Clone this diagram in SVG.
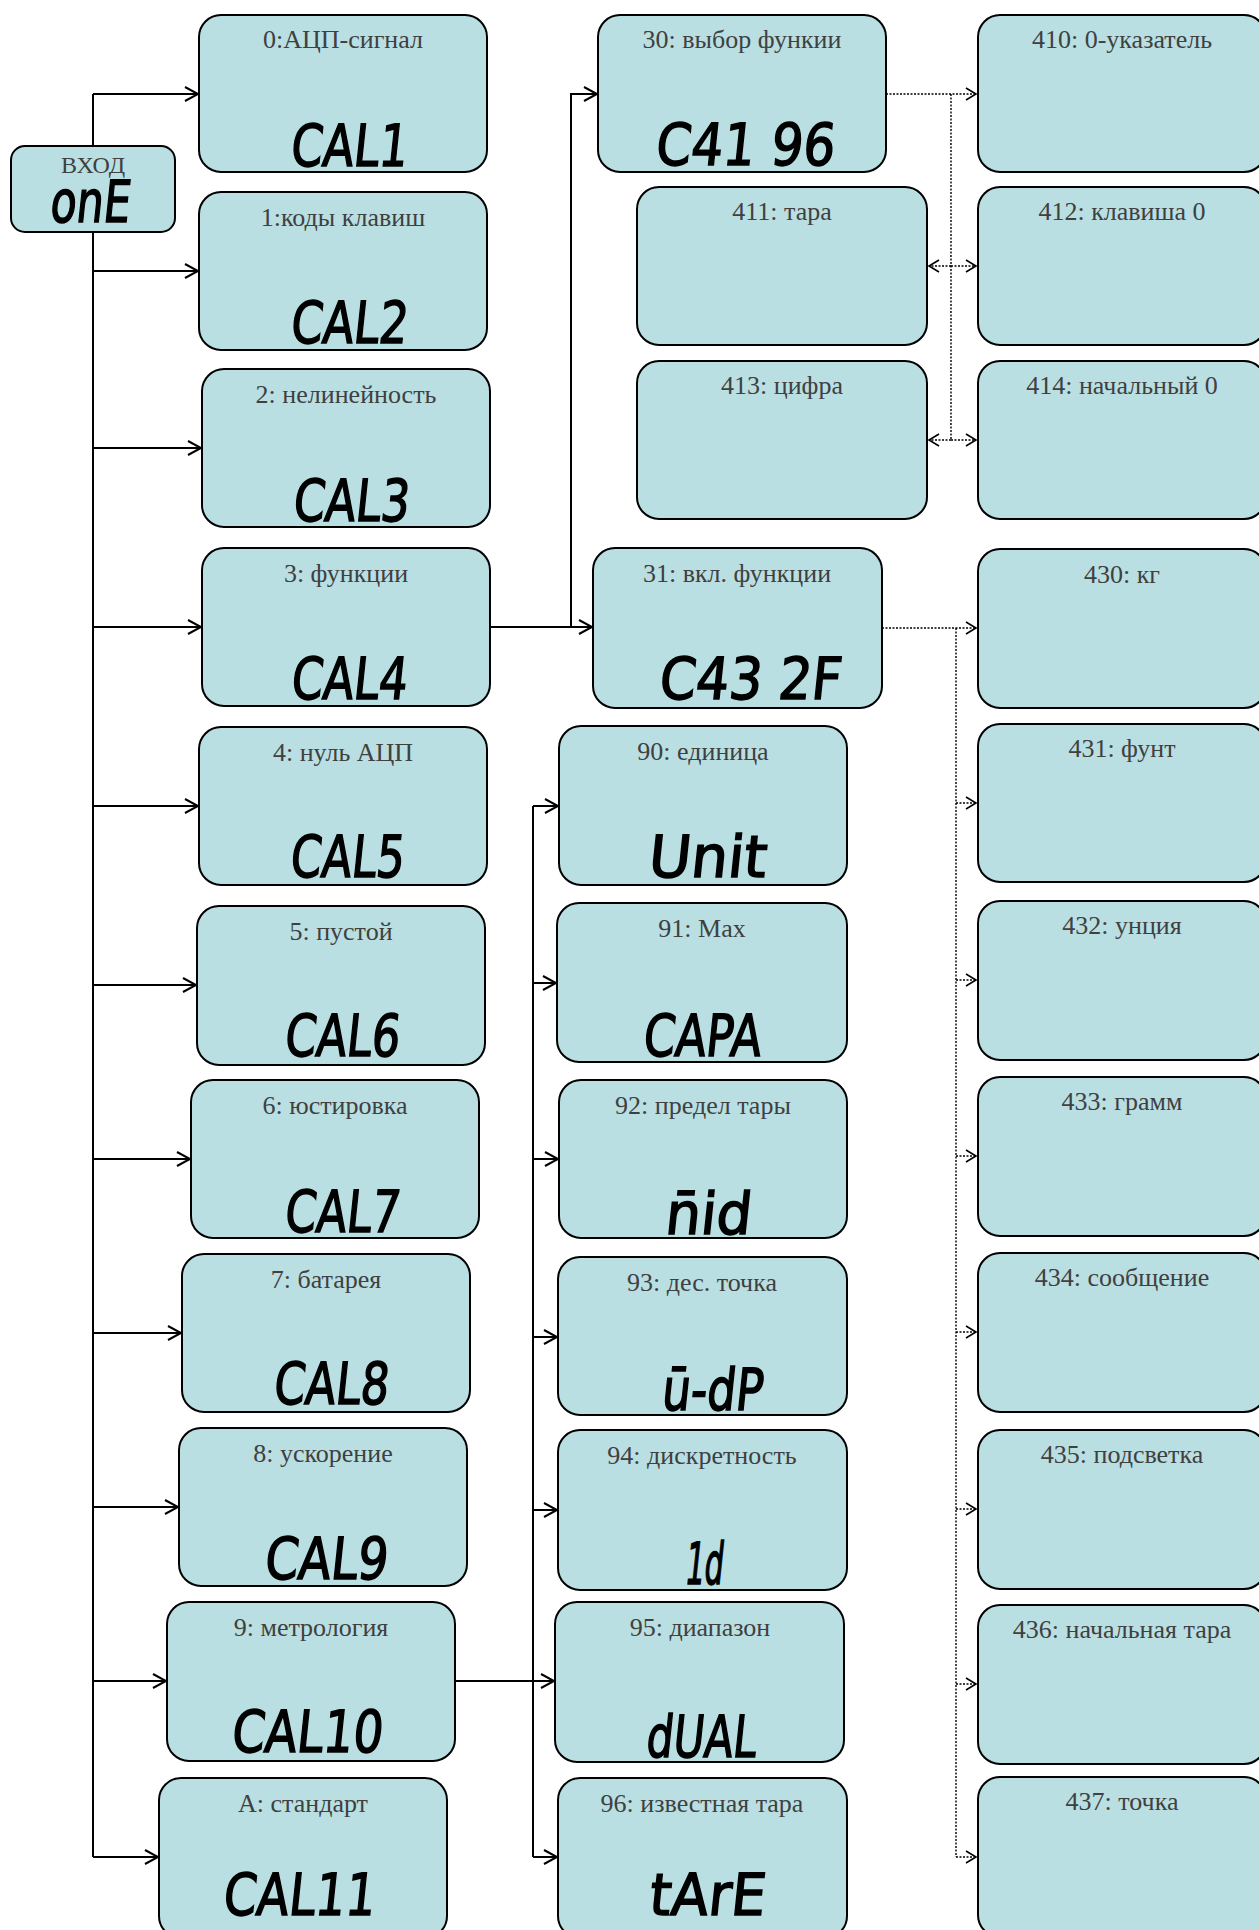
<svg xmlns="http://www.w3.org/2000/svg" width="1259" height="1930" viewBox="0 0 1259 1930">
<style>
.n{fill:#B9DFE2;stroke:#000;stroke-width:2}
.t{font-family:"Liberation Serif","Times New Roman",serif;font-size:26px;fill:#404040;text-anchor:middle}
.s{font-family:"DejaVu Sans",sans-serif;font-weight:normal;font-size:58px;fill:#000;stroke:#000;stroke-width:1.6;text-anchor:middle}
.c{fill:none;stroke:#000;stroke-width:2}
.d{fill:none;stroke:#000;stroke-width:1.4;stroke-dasharray:2 1.5}
</style>
<defs>
<marker id="a" markerUnits="userSpaceOnUse" markerWidth="16" markerHeight="16" refX="13" refY="7" orient="auto" overflow="visible"><path d="M0,0 L13,7 L0,14" fill="none" stroke="#000" stroke-width="2"/></marker>
<marker id="b" markerUnits="userSpaceOnUse" markerWidth="14" markerHeight="14" refX="10" refY="6" orient="auto" overflow="visible"><path d="M0,0 L10,6 L0,12" fill="none" stroke="#000" stroke-width="1.6"/></marker>
</defs>
<rect width="1259" height="1930" fill="#fff"/>
<g id="connectors">
<path class="c" d="M93,94 V1857"/>
<path class="c" marker-end="url(#a)" d="M93,94 H198"/>
<path class="c" marker-end="url(#a)" d="M93,271 H198"/>
<path class="c" marker-end="url(#a)" d="M93,448 H201"/>
<path class="c" marker-end="url(#a)" d="M93,627 H201"/>
<path class="c" marker-end="url(#a)" d="M93,806 H198"/>
<path class="c" marker-end="url(#a)" d="M93,985 H196"/>
<path class="c" marker-end="url(#a)" d="M93,1159 H190"/>
<path class="c" marker-end="url(#a)" d="M93,1333 H181"/>
<path class="c" marker-end="url(#a)" d="M93,1507 H178"/>
<path class="c" marker-end="url(#a)" d="M93,1681 H166"/>
<path class="c" marker-end="url(#a)" d="M93,1857 H158"/>
<path class="c" marker-end="url(#a)" d="M490,627 H592"/>
<path class="c" marker-end="url(#a)" d="M571,627 V94 H597"/>
<path class="c" marker-end="url(#a)" d="M456,1681 H554"/>
<path class="c" d="M533,806 V1857"/>
<path class="c" marker-end="url(#a)" d="M533,806 H558"/>
<path class="c" marker-end="url(#a)" d="M533,983 H556"/>
<path class="c" marker-end="url(#a)" d="M533,1159 H558"/>
<path class="c" marker-end="url(#a)" d="M533,1337 H557"/>
<path class="c" marker-end="url(#a)" d="M533,1510 H557"/>
<path class="c" marker-end="url(#a)" d="M533,1857 H557"/>
<path class="d" marker-end="url(#b)" d="M886,94 H976"/>
<path class="d" d="M951,94 V440"/>
<path class="d" marker-end="url(#b)" d="M951,266 H929"/>
<path class="d" marker-end="url(#b)" d="M951,266 H976"/>
<path class="d" marker-end="url(#b)" d="M951,440 H929"/>
<path class="d" marker-end="url(#b)" d="M951,440 H976"/>
<path class="d" marker-end="url(#b)" d="M882,628 H976"/>
<path class="d" d="M956,628 V1857"/>
<path class="d" marker-end="url(#b)" d="M956,803 H976"/>
<path class="d" marker-end="url(#b)" d="M956,980 H976"/>
<path class="d" marker-end="url(#b)" d="M956,1156 H976"/>
<path class="d" marker-end="url(#b)" d="M956,1332 H976"/>
<path class="d" marker-end="url(#b)" d="M956,1509 H976"/>
<path class="d" marker-end="url(#b)" d="M956,1684 H976"/>
<path class="d" marker-end="url(#b)" d="M956,1857 H976"/>
</g>
<g id="n-entry"><rect class="n" x="11" y="146" width="164" height="86" rx="14"/><text class="t" x="93" y="173" style="font-size:24px">ВХОД</text><g transform="translate(89,222) skewX(-6)"><text class="s" x="0" y="0" textLength="80" lengthAdjust="spacingAndGlyphs">onE</text></g></g>
<g id="n0"><rect class="n" x="199" y="15" width="288" height="157" rx="22"/><text class="t" x="343" y="48">0:АЦП-сигнал</text><g transform="translate(348,166) skewX(-6)"><text class="s" x="0" y="0" textLength="117" lengthAdjust="spacingAndGlyphs">CAL1</text></g></g>
<g id="n1"><rect class="n" x="199" y="192" width="288" height="158" rx="22"/><text class="t" x="343" y="226">1:коды клавиш</text><g transform="translate(348,343) skewX(-6)"><text class="s" x="0" y="0" textLength="117" lengthAdjust="spacingAndGlyphs">CAL2</text></g></g>
<g id="n2"><rect class="n" x="202" y="369" width="288" height="158" rx="22"/><text class="t" x="346" y="403">2: нелинейность</text><g transform="translate(350,521) skewX(-6)"><text class="s" x="0" y="0" textLength="116" lengthAdjust="spacingAndGlyphs">CAL3</text></g></g>
<g id="n3"><rect class="n" x="202" y="548" width="288" height="158" rx="22"/><text class="t" x="346" y="582">3: функции</text><g transform="translate(348,699) skewX(-6)"><text class="s" x="0" y="0" textLength="116" lengthAdjust="spacingAndGlyphs">CAL4</text></g></g>
<g id="n4"><rect class="n" x="199" y="727" width="288" height="158" rx="22"/><text class="t" x="343" y="761">4: нуль АЦП</text><g transform="translate(346,877) skewX(-6)"><text class="s" x="0" y="0" textLength="114" lengthAdjust="spacingAndGlyphs">CAL5</text></g></g>
<g id="n5"><rect class="n" x="197" y="906" width="288" height="159" rx="22"/><text class="t" x="341" y="940">5: пустой</text><g transform="translate(341,1056) skewX(-6)"><text class="s" x="0" y="0" textLength="115" lengthAdjust="spacingAndGlyphs">CAL6</text></g></g>
<g id="n6"><rect class="n" x="191" y="1080" width="288" height="158" rx="22"/><text class="t" x="335" y="1114">6: юстировка</text><g transform="translate(341,1232) skewX(-6)"><text class="s" x="0" y="0" textLength="115" lengthAdjust="spacingAndGlyphs">CAL7</text></g></g>
<g id="n7"><rect class="n" x="182" y="1254" width="288" height="158" rx="22"/><text class="t" x="326" y="1288">7: батарея</text><g transform="translate(330,1404) skewX(-6)"><text class="s" x="0" y="0" textLength="115" lengthAdjust="spacingAndGlyphs">CAL8</text></g></g>
<g id="n8"><rect class="n" x="179" y="1428" width="288" height="158" rx="22"/><text class="t" x="323" y="1462">8: ускорение</text><g transform="translate(325,1579) skewX(-6)"><text class="s" x="0" y="0" textLength="123" lengthAdjust="spacingAndGlyphs">CAL9</text></g></g>
<g id="n9"><rect class="n" x="167" y="1602" width="288" height="159" rx="22"/><text class="t" x="311" y="1636">9: метрология</text><g transform="translate(306,1752) skewX(-6)"><text class="s" x="0" y="0" textLength="151" lengthAdjust="spacingAndGlyphs">CAL10</text></g></g>
<g id="nA"><rect class="n" x="159" y="1778" width="288" height="160" rx="22"/><text class="t" x="303" y="1812">A: стандарт</text><g transform="translate(298,1915) skewX(-6)"><text class="s" x="0" y="0" textLength="152" lengthAdjust="spacingAndGlyphs">CAL11</text></g></g>
<g id="n30"><rect class="n" x="598" y="15" width="288" height="157" rx="22"/><text class="t" x="742" y="48">30: выбор функии</text><g transform="translate(744,165) skewX(-6)"><text class="s" x="0" y="0" textLength="179" lengthAdjust="spacingAndGlyphs">C41 96</text></g></g>
<g id="n411"><rect class="n" x="637" y="187" width="290" height="158" rx="22"/><text class="t" x="782" y="220">411: тара</text></g>
<g id="n413"><rect class="n" x="637" y="361" width="290" height="158" rx="22"/><text class="t" x="782" y="394">413: цифра</text></g>
<g id="n31"><rect class="n" x="593" y="548" width="289" height="160" rx="22"/><text class="t" x="737" y="582">31: вкл. функции</text><g transform="translate(749,699) skewX(-6)"><text class="s" x="0" y="0" textLength="182" lengthAdjust="spacingAndGlyphs">C43 2F</text></g></g>
<g id="n90"><rect class="n" x="559" y="726" width="288" height="159" rx="22"/><text class="t" x="703" y="760">90: единица</text><g transform="translate(706,877) skewX(-6)"><text class="s" x="0" y="0" textLength="118" lengthAdjust="spacingAndGlyphs">Unit</text></g></g>
<g id="n91"><rect class="n" x="557" y="903" width="290" height="159" rx="22"/><text class="t" x="702" y="937">91: Max</text><g transform="translate(701,1056) skewX(-6)"><text class="s" x="0" y="0" textLength="118" lengthAdjust="spacingAndGlyphs">CAPA</text></g></g>
<g id="n92"><rect class="n" x="559" y="1080" width="288" height="158" rx="22"/><text class="t" x="703" y="1114">92: предел тары</text><g transform="translate(707,1234) skewX(-6)"><text class="s" x="0" y="0" textLength="86" lengthAdjust="spacingAndGlyphs">n̄id</text></g></g>
<g id="n93"><rect class="n" x="558" y="1257" width="289" height="158" rx="22"/><text class="t" x="702" y="1291">93: дес. точка</text><g transform="translate(711,1410) skewX(-6)"><text class="s" x="0" y="0" textLength="101" lengthAdjust="spacingAndGlyphs">ū-dP</text></g></g>
<g id="n94"><rect class="n" x="558" y="1430" width="289" height="160" rx="22"/><text class="t" x="702" y="1464">94: дискретность</text><g transform="translate(703,1584) skewX(-6)"><text class="s" x="0" y="0" textLength="38" lengthAdjust="spacingAndGlyphs">1d</text></g></g>
<g id="n95"><rect class="n" x="555" y="1602" width="289" height="160" rx="22"/><text class="t" x="700" y="1636">95: диапазон</text><g transform="translate(700,1757) skewX(-6)"><text class="s" x="0" y="0" textLength="110" lengthAdjust="spacingAndGlyphs">dUAL</text></g></g>
<g id="n96"><rect class="n" x="558" y="1778" width="289" height="160" rx="22"/><text class="t" x="702" y="1812">96: известная тара</text><g transform="translate(706,1915) skewX(-6)"><text class="s" x="0" y="0" textLength="116" lengthAdjust="spacingAndGlyphs">tArE</text></g></g>
<g id="n410"><rect class="n" x="978" y="15" width="288" height="157" rx="22"/><text class="t" x="1122" y="48">410: 0-указатель</text></g>
<g id="n412"><rect class="n" x="978" y="187" width="288" height="158" rx="22"/><text class="t" x="1122" y="220">412: клавиша 0</text></g>
<g id="n414"><rect class="n" x="978" y="361" width="288" height="158" rx="22"/><text class="t" x="1122" y="394">414: начальный 0</text></g>
<g id="n430"><rect class="n" x="978" y="549" width="288" height="159" rx="22"/><text class="t" x="1122" y="583">430: кг</text></g>
<g id="n431"><rect class="n" x="978" y="724" width="288" height="158" rx="22"/><text class="t" x="1122" y="757">431: фунт</text></g>
<g id="n432"><rect class="n" x="978" y="901" width="288" height="159" rx="22"/><text class="t" x="1122" y="934">432: унция</text></g>
<g id="n433"><rect class="n" x="978" y="1077" width="288" height="159" rx="22"/><text class="t" x="1122" y="1110">433: грамм</text></g>
<g id="n434"><rect class="n" x="978" y="1253" width="288" height="159" rx="22"/><text class="t" x="1122" y="1286">434: сообщение</text></g>
<g id="n435"><rect class="n" x="978" y="1430" width="288" height="159" rx="22"/><text class="t" x="1122" y="1463">435: подсветка</text></g>
<g id="n436"><rect class="n" x="978" y="1605" width="288" height="159" rx="22"/><text class="t" x="1122" y="1638">436: начальная тара</text></g>
<g id="n437"><rect class="n" x="978" y="1777" width="288" height="160" rx="22"/><text class="t" x="1122" y="1810">437: точка</text></g>
</svg>
